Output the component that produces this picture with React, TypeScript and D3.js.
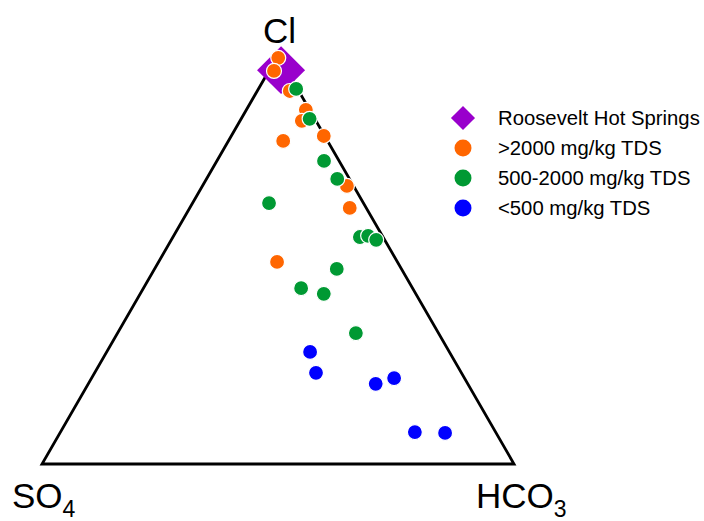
import { useEffect, useRef } from 'react'
import * as d3 from 'd3'

// ternary composition, percent: [Cl, SO4, HCO3]
const roosevelt = [[96.3, 1.2, 2.5]]
const tdsHigh = [
  [99.3, 0.3, 0.4], [96.1, 2.8, 1.1], [91.2, 1.9, 6.9], [86.6, 0.8, 12.6], [83.9, 3.0, 13.1],
  [79.0, 9.4, 11.6], [80.2, 0.2, 19.6], [68.0, 1.4, 30.6], [62.6, 3.5, 33.9], [49.4, 25.5, 25.1],
]
const tdsMid = [
  [91.7, 0.3, 8.0], [84.4, 1.1, 14.5], [74.1, 3.2, 22.7], [69.7, 2.6, 27.7], [63.8, 20.0, 16.2],
  [55.5, 4.9, 39.6], [55.8, 3.0, 41.2], [54.8, 1.8, 43.4], [47.7, 13.7, 38.6], [43.0, 23.6, 33.4],
  [41.6, 19.5, 38.9], [32.0, 17.5, 50.5],
]
const tdsLow = [
  [27.4, 29.5, 43.1], [22.3, 30.8, 46.9], [19.6, 19.5, 60.9], [21.0, 14.9, 64.1],
  [7.8, 17.1, 75.1], [7.6, 10.8, 81.6],
]
const legendLabels = ['Roosevelt Hot Springs', '>2000 mg/kg TDS', '500-2000 mg/kg TDS', '<500 mg/kg TDS']
const colors = ['#9900cc', '#ff6600', '#009933', '#0000ff']

export default function App() {
  const ref = useRef(null)

  useEffect(() => {
    const width = 704
    const height = 521
    const svg = d3.select(ref.current).attr('width', width).attr('height', height)
    svg.selectAll('*').remove()

    const font = 'Arial, "Liberation Sans", sans-serif'
    const x = d3.scaleLinear().domain([0, 100]).range([42, 514])
    const y = d3.scaleLinear().domain([0, 100]).range([464, 55])
    const px = (d) => x(d[2] + d[0] / 2)
    const py = (d) => y(d[0])

    // triangle corners: SO4, HCO3, Cl
    const corners = [[0, 100, 0], [0, 0, 100], [100, 0, 0]]
    svg.append('path')
      .attr('d', d3.line().x(px).y(py)(corners) + 'Z')
      .attr('fill', 'none').attr('stroke', '#000').attr('stroke-width', 2.8)

    // Roosevelt diamond
    const diamond = d3.symbol().type(d3.symbolSquare).size(1150)
    svg.selectAll('path.rhs').data(roosevelt).join('path').attr('class', 'rhs')
      .attr('d', diamond)
      .attr('transform', (d) => `translate(${px(d)},${py(d)}) rotate(45)`)
      .attr('fill', colors[0])

    const groups = [tdsHigh, tdsMid, tdsLow]
    groups.forEach((data, i) => {
      svg.append('g').selectAll('circle').data(data).join('circle')
        .attr('cx', px).attr('cy', py).attr('r', 7.5)
        .attr('fill', colors[i + 1]).attr('stroke', '#fff').attr('stroke-width', 1.2)
    })

    // corner labels
    svg.append('text').attr('x', 263).attr('y', 43).attr('font-family', font).attr('font-size', 35).text('Cl')
    const so4 = svg.append('text').attr('x', 12).attr('y', 508).attr('font-family', font).attr('font-size', 35)
    so4.append('tspan').text('SO')
    so4.append('tspan').attr('font-size', 23).attr('dy', 9).text('4')
    const hco3 = svg.append('text').attr('x', 476).attr('y', 508).attr('font-family', font).attr('font-size', 35)
    hco3.append('tspan').text('HCO')
    hco3.append('tspan').attr('font-size', 23).attr('dy', 9).text('3')

    // legend
    const ly = d3.scalePoint().domain(legendLabels).range([118, 208])
    const leg = svg.append('g')
    leg.append('path')
      .attr('d', d3.symbol().type(d3.symbolSquare).size(290)())
      .attr('transform', `translate(463,${ly(legendLabels[0])}) rotate(45)`)
      .attr('fill', colors[0])
    leg.selectAll('circle').data(legendLabels.slice(1)).join('circle')
      .attr('cx', 463).attr('cy', (d) => ly(d)).attr('r', 8.5)
      .attr('fill', (d, i) => colors[i + 1])
    leg.selectAll('text').data(legendLabels).join('text')
      .attr('x', 498).attr('y', (d) => ly(d)).attr('dy', '0.35em')
      .attr('font-family', font).attr('font-size', 20.3).attr('fill', '#000')
      .text((d) => d)
  }, [])

  return (
    <div style={{ position: 'absolute', left: 0, top: 0, background: '#fff' }}>
      <svg ref={ref} style={{ display: 'block' }} />
    </div>
  )
}
